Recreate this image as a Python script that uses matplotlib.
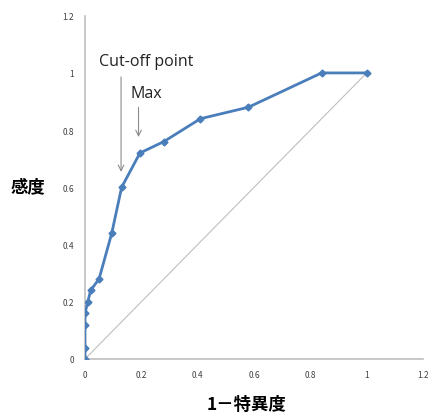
import matplotlib
matplotlib.use("Agg")
import matplotlib.pyplot as plt

plt.rcParams['font.family'] = ['Noto Sans CJK JP', 'DejaVu Sans']

fpr = [0, 0, 0, 0, 0.01, 0.02, 0.05, 0.095, 0.13, 0.195, 0.28, 0.41, 0.58, 0.84, 1.0]
tpr = [0, 0.04, 0.12, 0.16, 0.20, 0.24, 0.28, 0.44, 0.60, 0.72, 0.76, 0.84, 0.88, 1.0, 1.0]
diag_x = [0, 1]
diag_y = [0, 1]
ticks = [0, 0.2, 0.4, 0.6, 0.8, 1.0, 1.2]
tick_labels = ['0', '0.2', '0.4', '0.6', '0.8', '1', '1.2']

fig = plt.figure(figsize=(4.28, 4.14), dpi=100)
ax = fig.add_axes([85/428, 1-360/414, (423-85)/428, (360-16.7)/414])

ax.plot(diag_x, diag_y, color='#BFBFBF', lw=0.8, zorder=1)
ax.plot(fpr, tpr, color='#4A7EBB', lw=2, marker='D', ms=3.5, zorder=3)

ax.set_xlim(0, 1.2)
ax.set_ylim(0, 1.2)
ax.set_xticks(ticks)
ax.set_xticklabels(tick_labels)
ax.set_yticks(ticks)
ax.set_yticklabels(tick_labels)
ax.tick_params(length=0, labelsize=6, labelcolor='#404040', pad=8)
for s in ['top', 'right']:
    ax.spines[s].set_visible(False)
for s in ['left', 'bottom']:
    ax.spines[s].set_color('#BFBFBF')
    ax.spines[s].set_linewidth(1.2)

fig.text(28/428, 1-187/414, '感度', fontsize=12.5, fontweight='bold', ha='center', va='center')
fig.text(246/428, 1-405/414, '1－特異度', fontsize=12.5, fontweight='bold', ha='center', va='center')

ax.text(0.216, 1.04, 'Cut-off point', ha='center', va='center', fontsize=11.5,
        color='#222222', family=['Open Sans', 'DejaVu Sans'])
ax.text(0.216, 0.93, 'Max', ha='center', va='center', fontsize=11.5,
        color='#222222', family=['Open Sans', 'DejaVu Sans'])
ax.annotate('', xy=(0.128, 0.654), xytext=(0.128, 0.986),
            arrowprops=dict(arrowstyle='->', color='#8C8C8C', lw=0.8,
                            shrinkA=0, shrinkB=0))
ax.annotate('', xy=(0.19, 0.776), xytext=(0.19, 0.88),
            arrowprops=dict(arrowstyle='->', color='#8C8C8C', lw=0.8,
                            shrinkA=0, shrinkB=0))

fig.savefig('out.png', dpi=100)
